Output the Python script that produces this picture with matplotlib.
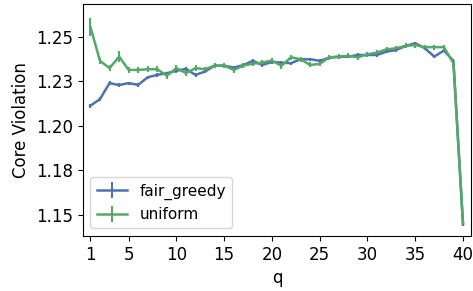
import matplotlib
matplotlib.use("Agg")
import matplotlib.pyplot as plt
import numpy as np

plt.rcParams['font.size'] = 12

q = np.arange(1, 41)

fair_greedy = [1.2112, 1.2149, 1.2239, 1.2228, 1.2239, 1.2229, 1.2272, 1.2285, 1.2295, 1.2308,
               1.2319, 1.2285, 1.2304, 1.2337, 1.2337, 1.2326, 1.2340, 1.2364, 1.2341, 1.2358,
               1.2354, 1.2351, 1.2373, 1.2373, 1.2364, 1.2382, 1.2386, 1.2388, 1.2397, 1.2397,
               1.2397, 1.2416, 1.2425, 1.2448, 1.2463, 1.2435, 1.2388, 1.2422, 1.2364, 1.1446]
fair_greedy_err = [0.0012, 0.0010, 0.0010, 0.0010, 0.0009, 0.0010, 0.0009, 0.0009, 0.0009, 0.0010,
                   0.0010, 0.0009, 0.0009, 0.0010, 0.0009, 0.0009, 0.0009, 0.0010, 0.0009, 0.0009,
                   0.0009, 0.0009, 0.0009, 0.0009, 0.0009, 0.0009, 0.0009, 0.0009, 0.0009, 0.0009,
                   0.0009, 0.0009, 0.0009, 0.0009, 0.0009, 0.0009, 0.0009, 0.0009, 0.0010, 0.0008]

uniform = [1.2555, 1.2364, 1.2323, 1.2388, 1.2313, 1.2313, 1.2317, 1.2317, 1.2280, 1.2323,
           1.2295, 1.2323, 1.2317, 1.2337, 1.2337, 1.2313, 1.2337, 1.2348, 1.2354, 1.2366,
           1.2336, 1.2384, 1.2373, 1.2341, 1.2347, 1.2384, 1.2388, 1.2392, 1.2384, 1.2401,
           1.2410, 1.2429, 1.2435, 1.2448, 1.2453, 1.2441, 1.2441, 1.2441, 1.2351, 1.1452]
uniform_err = [0.0052, 0.0018, 0.0018, 0.0030, 0.0015, 0.0015, 0.0016, 0.0016, 0.0016, 0.0018,
               0.0016, 0.0015, 0.0015, 0.0014, 0.0014, 0.0015, 0.0014, 0.0014, 0.0014, 0.0015,
               0.0016, 0.0015, 0.0014, 0.0014, 0.0014, 0.0014, 0.0014, 0.0014, 0.0014, 0.0014,
               0.0014, 0.0014, 0.0014, 0.0014, 0.0014, 0.0014, 0.0014, 0.0014, 0.0015, 0.0008]

xticks = [1, 5, 10, 15, 20, 25, 30, 35, 40]
yticks = [1.150, 1.175, 1.200, 1.225, 1.250]

fig = plt.figure(figsize=(4.73, 2.91), dpi=100)
ax = fig.add_axes([0.175, 0.189, 0.821, 0.797])

ax.errorbar(q, fair_greedy, yerr=fair_greedy_err, color='#4C72B0', lw=1.8, elinewidth=1.5,
            label='fair_greedy')
ax.errorbar(q, uniform, yerr=uniform_err, color='#55A868', lw=1.8, elinewidth=1.5,
            label='uniform')

ax.set_xlim(0.2, 40.85)
ax.set_ylim(1.138, 1.2683)
ax.set_xticks(xticks)
ax.set_yticks(yticks)
ax.set_yticklabels(['%.2f' % v for v in yticks])
ax.set_xlabel('q')
ax.set_ylabel('Core Violation')
ax.legend(loc='lower left', fontsize=11)

fig.savefig('out.png', dpi=100)
